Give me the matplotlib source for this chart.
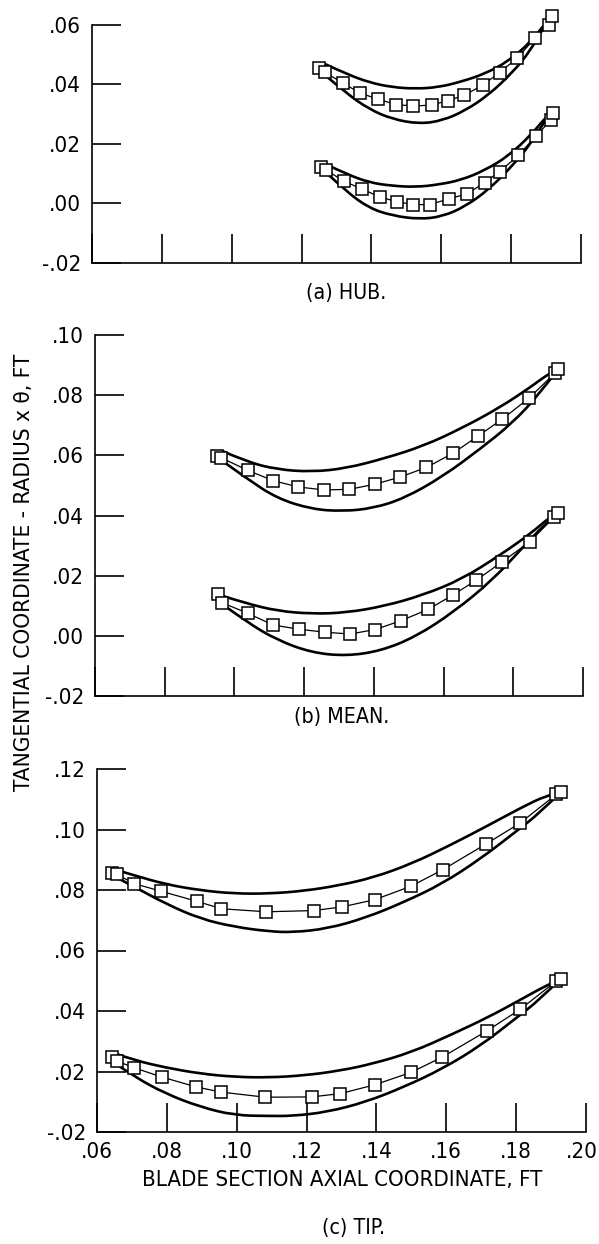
import matplotlib
matplotlib.use('Agg')
import matplotlib.pyplot as plt
from matplotlib.patches import PathPatch
from matplotlib.path import Path
from matplotlib.transforms import ScaledTranslation

W, H = 599, 1244

# panel (a) hub, upper blade
hub_up_x = [.1250, .1267, .1320, .1368, .1420, .1469, .1519, .1572, .1618, .1666, .1718, .1767, .1816, .1868, .1909, .1918]
hub_up_y = [.0454, .0440, .0403, .0370, .0350, .0332, .0327, .0330, .0345, .0363, .0397, .0439, .0487, .0554, .0599, .0630]
hub_up_top_x = [.1267, .1328, .1394, .1460, .1526, .1592, .1658, .1724, .1791, .1857, .1901, .1918]
hub_up_top_y = [.0468, .0435, .0406, .0390, .0385, .0390, .0409, .0435, .0476, .0543, .0610, .0630]
hub_up_bot_x = [.1267, .1328, .1394, .1460, .1537, .1603, .1669, .1735, .1802, .1857, .1895, .1918]
hub_up_bot_y = [.0431, .0370, .0316, .0283, .0267, .0278, .0312, .0364, .0437, .0515, .0599, .0630]
# panel (a) hub, lower blade
hub_lo_x = [.1256, .1269, .1322, .1374, .1425, .1473, .1520, .1567, .1623, .1674, .1724, .1767, .1821, .1870, .1914, .1921]
hub_lo_y = [.0121, .0113, .0074, .0048, .0021, .0006, -.0004, -.0004, .0016, .0032, .0070, .0107, .0161, .0225, .0280, .0303]
hub_lo_top_x = [.1272, .1328, .1394, .1460, .1526, .1592, .1658, .1724, .1791, .1857, .1901, .1918]
hub_lo_top_y = [.0130, .0099, .0070, .0059, .0055, .0063, .0079, .0111, .0158, .0230, .0292, .0308]
hub_lo_bot_x = [.1272, .1328, .1394, .1460, .1537, .1603, .1669, .1735, .1802, .1857, .1895, .1918]
hub_lo_bot_y = [.0102, .0040, -.0016, -.0041, -.0053, -.0044, -.0010, .0046, .0124, .0202, .0275, .0308]

# panel (b) mean
mean_up_x = [.0951, .0962, .1038, .1111, .1182, .1257, .1330, .1403, .1476, .1551, .1627, .1700, .1769, .1844, .1919, .1928]
mean_up_y = [.0598, .0592, .0550, .0516, .0495, .0485, .0487, .0504, .0528, .0560, .0607, .0665, .0721, .0789, .0873, .0886]
mean_up_top_x = [.0962, .1034, .1122, .1222, .1321, .1431, .1542, .1652, .1763, .1851, .1906, .1928]
mean_up_top_y = [.0616, .0579, .0553, .0545, .0557, .0590, .0631, .0690, .0760, .0828, .0875, .0886]
mean_up_bot_x = [.0962, .1034, .1122, .1222, .1310, .1398, .1487, .1597, .1707, .1796, .1873, .1928]
mean_up_bot_y = [.0584, .0524, .0457, .0421, .0414, .0424, .0457, .0529, .0623, .0706, .0801, .0886]
mean_lo_x = [.0954, .0965, .1038, .1111, .1185, .1260, .1332, .1404, .1477, .1556, .1627, .1694, .1769, .1848, .1918, .1927]
mean_lo_y = [.0138, .0110, .0075, .0036, .0022, .0012, .0006, .0021, .0050, .0088, .0136, .0185, .0247, .0313, .0396, .0409]
mean_lo_top_x = [.0968, .1034, .1122, .1222, .1321, .1431, .1542, .1652, .1763, .1851, .1906, .1927]
mean_lo_top_y = [.0132, .0108, .0083, .0073, .0077, .0099, .0136, .0188, .0269, .0341, .0396, .0409]
mean_lo_bot_x = [.0968, .1034, .1122, .1222, .1321, .1420, .1520, .1630, .1741, .1829, .1884, .1927]
mean_lo_bot_y = [.0103, .0047, -.0014, -.0056, -.0067, -.0050, -.0003, .0080, .0186, .0296, .0363, .0409]

# panel (c) tip
tip_up_x = [.0644, .0656, .0707, .0783, .0885, .0956, .1085, .1220, .1301, .1395, .1498, .1590, .1715, .1811, .1915, .1929]
tip_up_y = [.0857, .0852, .0821, .0796, .0763, .0738, .0728, .0732, .0744, .0768, .0812, .0867, .0953, .1021, .1116, .1125]
tip_up_top_x = [.0653, .0708, .0796, .0895, .0994, .1093, .1193, .1292, .1391, .1501, .1611, .1721, .1809, .1887, .1929]
tip_up_top_y = [.0867, .0848, .0819, .0799, .0788, .0788, .0797, .0815, .0841, .0887, .0948, .1014, .1069, .1113, .1125]
tip_up_bot_x = [.0653, .0708, .0796, .0895, .0994, .1093, .1160, .1259, .1369, .1479, .1589, .1699, .1798, .1865, .1929]
tip_up_bot_y = [.0843, .0810, .0755, .0705, .0678, .0663, .0660, .0672, .0708, .0760, .0821, .0904, .0992, .1052, .1125]
tip_lo_x = [.0644, .0656, .0707, .0785, .0884, .0955, .1082, .1215, .1297, .1395, .1499, .1589, .1716, .1811, .1915, .1928]
tip_lo_y = [.0248, .0235, .0212, .0182, .0149, .0132, .0115, .0116, .0127, .0156, .0197, .0248, .0334, .0405, .0499, .0507]
tip_lo_top_x = [.0653, .0708, .0796, .0895, .0994, .1093, .1193, .1292, .1391, .1501, .1611, .1721, .1809, .1887, .1928]
tip_lo_top_y = [.0259, .0237, .0213, .0193, .0182, .0180, .0187, .0202, .0226, .0264, .0320, .0380, .0435, .0485, .0507]
tip_lo_bot_x = [.0653, .0708, .0796, .0895, .0994, .1093, .1160, .1259, .1369, .1479, .1589, .1699, .1798, .1865, .1928]
tip_lo_bot_y = [.0226, .0182, .0127, .0083, .0055, .0053, .0053, .0066, .0099, .0149, .0209, .0286, .0375, .0435, .0507]

x_ticks = [.06, .08, .10, .12, .14, .16, .18, .20]
x_tick_labels = ['.06', '.08', '.10', '.12', '.14', '.16', '.18', '.20']
hub_ticks = [-.02, .00, .02, .04, .06]
hub_labels = ['-.02', '.00', '.02', '.04', '.06']
mean_ticks = [-.02, .00, .02, .04, .06, .08, .10]
mean_labels = ['-.02', '.00', '.02', '.04', '.06', '.08', '.10']
# the printed scale has no .00 on the tip panel, its last label reads -.02
tip_ticks = [.00, .02, .04, .06, .08, .10, .12]
tip_labels = ['-.02', '.02', '.04', '.06', '.08', '.10', '.12']

plt.rcParams['font.family'] = ['DejaVu Sans']
plt.rcParams['font.stretch'] = 'condensed'


def make_axes(left, right, top, bottom):
    ax = fig.add_axes([left / W, 1 - bottom / H, (right - left) / W, (bottom - top) / H])
    ax.spines['top'].set_visible(False)
    ax.spines['right'].set_visible(False)
    ax.spines['left'].set_linewidth(1.2)
    ax.spines['bottom'].set_linewidth(1.2)
    ax.tick_params(direction='in', length=21, width=1.2, labelsize=16, pad=8)
    ax.set_xlim(.06, .20)
    return ax


def smooth_line(ax, xs, ys):
    # quadratic segments through the midpoints, the blade outlines are drawn curves
    verts = [(xs[0], ys[0])]
    codes = [Path.MOVETO]
    for i in range(1, len(xs) - 1):
        verts.append((xs[i], ys[i]))
        codes.append(Path.CURVE3)
        if i < len(xs) - 2:
            verts.append(((xs[i] + xs[i + 1]) / 2, (ys[i] + ys[i + 1]) / 2))
        else:
            verts.append((xs[-1], ys[-1]))
        codes.append(Path.CURVE3)
    ax.add_patch(PathPatch(Path(verts, codes), fc='none', ec='black', lw=1.9, clip_on=False))


def draw_blade(ax, top_x, top_y, bot_x, bot_y, mx, my):
    smooth_line(ax, top_x, top_y)
    smooth_line(ax, bot_x, bot_y)
    ax.plot(mx, my, color='black', lw=0.9, marker='s', ms=8.2, mfc='white', mec='black',
            mew=1.1, clip_on=False)


def px_text(x, y, s, **kw):
    fig.text(x / W, 1 - y / H, s, ha='center', va='center', **kw)


fig = plt.figure(figsize=(W / 100, H / 100), dpi=100)

ax_a = make_axes(92, 581, 24.7, 263)
ax_a.set_ylim(-.02, .06)
ax_a.set_xticks(x_ticks)
ax_a.set_xticklabels([])
ax_a.set_yticks(hub_ticks)
ax_a.set_yticklabels(hub_labels)
draw_blade(ax_a, hub_up_top_x, hub_up_top_y, hub_up_bot_x, hub_up_bot_y, hub_up_x, hub_up_y)
draw_blade(ax_a, hub_lo_top_x, hub_lo_top_y, hub_lo_bot_x, hub_lo_bot_y, hub_lo_x, hub_lo_y)

ax_b = make_axes(95, 583, 335, 696)
ax_b.set_ylim(-.02, .10)
ax_b.set_xticks(x_ticks)
ax_b.set_xticklabels([])
ax_b.set_yticks(mean_ticks)
ax_b.set_yticklabels(mean_labels)
draw_blade(ax_b, mean_up_top_x, mean_up_top_y, mean_up_bot_x, mean_up_bot_y, mean_up_x, mean_up_y)
draw_blade(ax_b, mean_lo_top_x, mean_lo_top_y, mean_lo_bot_x, mean_lo_bot_y, mean_lo_x, mean_lo_y)

ax_c = make_axes(97, 586, 769, 1132)
ax_c.set_ylim(.00, .12)
ax_c.set_xticks(x_ticks)
ax_c.set_xticklabels(x_tick_labels)
ax_c.set_yticks(tip_ticks)
ax_c.set_yticklabels(tip_labels)
ax_c.tick_params(axis='x', pad=7)
# keep the last label inside the page
last = ax_c.get_xticklabels()[-1]
last.set_transform(last.get_transform() + ScaledTranslation(-4 / 100, 0, fig.dpi_scale_trans))
draw_blade(ax_c, tip_up_top_x, tip_up_top_y, tip_up_bot_x, tip_up_bot_y, tip_up_x, tip_up_y)
draw_blade(ax_c, tip_lo_top_x, tip_lo_top_y, tip_lo_bot_x, tip_lo_bot_y, tip_lo_x, tip_lo_y)

px_text(346, 293, '(a) HUB.', fontsize=15.3)
px_text(342, 717, '(b) MEAN.', fontsize=15.3)
px_text(354, 1228, '(c) TIP.', fontsize=15.3)
px_text(342, 1180, 'BLADE SECTION AXIAL COORDINATE, FT', fontsize=15.9)
px_text(24, 572, 'TANGENTIAL COORDINATE - RADIUS x θ, FT', fontsize=16.2, rotation=90)

fig.savefig('out.png', dpi=100)
